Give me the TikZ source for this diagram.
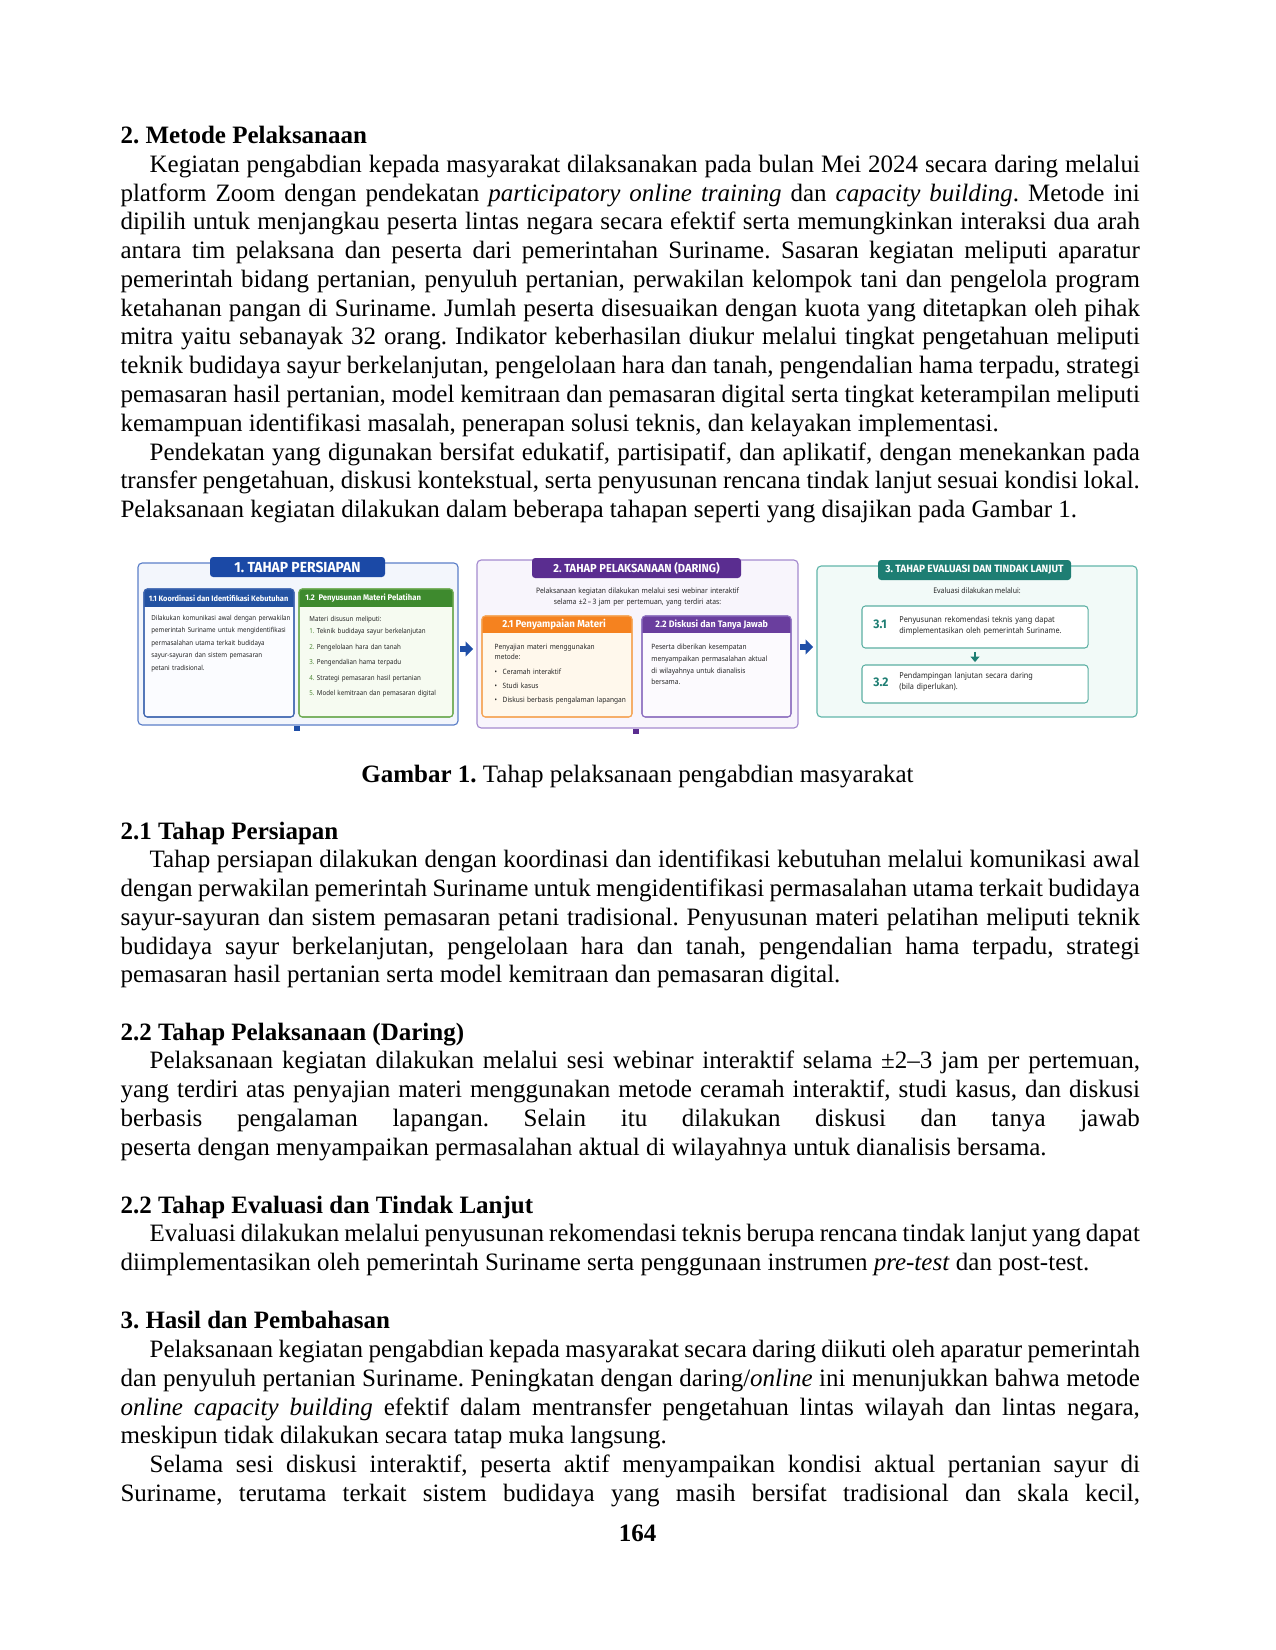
\documentclass[tikz,border=0pt]{standalone}
\usepackage{fontspec}
\setmainfont{Liberation Serif}
\newfontfamily\fsans[FakeStretch=0.9]{Noto Sans}
\newfontfamily\fcond[FakeStretch=0.95]{Fira Sans}
\usetikzlibrary{arrows.meta}
\tolerance=10000
\hyphenpenalty=10000
\exhyphenpenalty=10000
\frenchspacing
\definecolor{bonefill}{HTML}{F3F6FC}
\definecolor{boneline}{HTML}{5B7FC8}
\definecolor{tblue}{HTML}{1B49A6}
\definecolor{hoo}{HTML}{2352A2}
\definecolor{loo}{HTML}{3F66B0}
\definecolor{foo}{HTML}{FBFCFF}
\definecolor{hot}{HTML}{3E8A2E}
\definecolor{lot}{HTML}{6DAA52}
\definecolor{fot}{HTML}{F6FBF1}
\definecolor{numg}{HTML}{4E8A35}
\definecolor{btwofill}{HTML}{F8F5FC}
\definecolor{btwoline}{HTML}{A58BCF}
\definecolor{tpurp}{HTML}{5A2D90}
\definecolor{hto}{HTML}{F5821F}
\definecolor{lto}{HTML}{F5A556}
\definecolor{fto}{HTML}{FFF8EC}
\definecolor{htt}{HTML}{6A3E9E}
\definecolor{ltt}{HTML}{8E70C0}
\definecolor{ftt}{HTML}{FCFAFE}
\definecolor{bthreefill}{HTML}{F2FAF8}
\definecolor{bthreeline}{HTML}{62B6AA}
\definecolor{tteal}{HTML}{1E7E73}
\definecolor{lthree}{HTML}{5BAFA2}
\definecolor{arrb}{HTML}{1F4FA8}
\definecolor{ftxt}{HTML}{262626}
\newcommand\hdrfill[4]{%
  \begin{scope}
    \clip[rounded corners=1.6pt] (#1.north west) rectangle (#1.south east);
    \fill[#2] (#1.north west) rectangle ([yshift=-#3]#1.north east);
  \end{scope}
  \draw[#4, line width=0.5pt, rounded corners=1.6pt] (#1.north west) rectangle (#1.south east);}
\newcommand\fnum[1]{\makebox[3.6pt][l]{\textcolor{numg}{#1}}}
\newcommand\fbul{\makebox[3.85pt][l]{•}}
\begin{document}
\begin{tikzpicture}[x=0.48pt,y=-0.48pt,
  txt/.style={anchor=base west, inner sep=0pt, outer sep=0pt, text width=489.3pt, align=justify,
    font=\fontsize{12pt}{13.8pt}\selectfont},
  hd/.style={anchor=base west, inner sep=0pt, outer sep=0pt, font=\fontsize{12pt}{13.8pt}\selectfont\bfseries},
  obox/.style={draw, rounded corners=2pt, inner sep=0pt, outer sep=0pt, line width=0.55pt, anchor=north west},
  sbox/.style={draw, rounded corners=1.6pt, inner sep=0pt, outer sep=0pt, line width=0.5pt, anchor=north west},
  tab/.style={rounded corners=1.5pt, inner sep=0pt, outer sep=0pt, text=white, minimum height=9.6pt},
  hdtxt/.style={anchor=west, inner sep=0pt, text=white},
  ftx/.style={anchor=base west, inner sep=0pt, text width=120pt, align=left, text=ftxt},
  blk/.style={arrb, line width=3pt, -{Triangle[width=7pt,length=3.6pt]}}
]
\path[use as bounding box, fill=white] (0,0) rectangle (1275,1650);

% ---------------- text above the figure ----------------
\node[hd] (h1) at (120.5,143.7) {2. Metode Pelaksanaan};
\node[txt] (p1) at (120.5,172.5) {\hspace*{14pt}Kegiatan pengabdian kepada masyarakat dilaksanakan pada bulan Mei 2024 secara daring melalui\linebreak
platform Zoom dengan pendekatan \textit{participatory online training} dan \textit{capacity building}. Metode ini\linebreak
dipilih untuk menjangkau peserta lintas negara secara efektif serta memungkinkan interaksi dua arah\linebreak
antara tim pelaksana dan peserta dari pemerintahan Suriname. Sasaran kegiatan meliputi aparatur\linebreak
pemerintah bidang pertanian, penyuluh pertanian, perwakilan kelompok tani dan pengelola program\linebreak
ketahanan pangan di Suriname. Jumlah peserta disesuaikan dengan kuota yang ditetapkan oleh pihak\linebreak
mitra yaitu sebanayak 32 orang. Indikator keberhasilan diukur melalui tingkat pengetahuan meliputi\linebreak
teknik budidaya sayur berkelanjutan, pengelolaan hara dan tanah, pengendalian hama terpadu, strategi\linebreak
pemasaran hasil pertanian, model kemitraan dan pemasaran digital serta tingkat keterampilan meliputi\linebreak
kemampuan identifikasi masalah, penerapan solusi teknis, dan kelayakan implementasi.};
\node[txt] (p2) at (120.5,460) {\hspace*{14pt}Pendekatan yang digunakan bersifat edukatif, partisipatif, dan aplikatif, dengan menekankan pada\linebreak
transfer pengetahuan, diskusi kontekstual, serta penyusunan rencana tindak lanjut sesuai kondisi lokal.\linebreak
Pelaksanaan kegiatan dilakukan dalam beberapa tahapan seperti yang disajikan pada Gambar 1.};

% ---------------- figure: outer boxes ----------------
\node[obox, draw=boneline, fill=bonefill, minimum width=153.6pt, minimum height=77.76pt] (b1) at (138,563) {};
\node[obox, draw=btwoline, fill=btwofill, minimum width=154.08pt, minimum height=80.64pt] (b2) at (477,560) {};
\node[obox, draw=bthreeline, fill=bthreefill, minimum width=153.6pt, minimum height=72.48pt] (b3) at (817,566) {};

\node[tab, fill=tblue, minimum width=84pt, font=\fcond\bfseries\fontsize{7pt}{8pt}\selectfont] (t1) at (297.5,567) {1. TAHAP PERSIAPAN};
\node[tab, fill=tpurp, minimum width=100.32pt, font=\fcond\bfseries\fontsize{5.6pt}{6.5pt}\selectfont] (t2) at (636.5,568) {2. TAHAP PELAKSANAAN (DARING)};
\node[tab, fill=tteal, minimum width=92.64pt, font=\fcond\bfseries\fontsize{5.1pt}{6pt}\selectfont] (t3) at (974.5,570) {3. TAHAP EVALUASI DAN TINDAK LANJUT};

% ---------------- box 1 ----------------
\node[sbox, draw=loo, fill=foo, minimum width=72pt, minimum height=61.44pt] (s11) at (144,589) {};
\hdrfill{s11}{hoo}{8.64pt}{loo}
\node[sbox, draw=lot, fill=fot, minimum width=73.92pt, minimum height=61.44pt] (s12) at (299,589) {};
\hdrfill{s12}{hot}{8.64pt}{lot}
\node[hdtxt, font=\fcond\bfseries\fontsize{3.75pt}{4.5pt}\selectfont] (s11h) at (148.5,598) {1.1 Koordinasi dan Identifikasi Kebutuhan};
\node[hdtxt, font=\fcond\bfseries\fontsize{3.9pt}{4.5pt}\selectfont] (s12h) at (305,598) {1.2\ \ Penyusunan Materi Pelatihan};
\node[ftx, font=\fsans\fontsize{3.3pt}{6pt}\selectfont] (s11t) at (151,620) {Dilakukan komunikasi awal dengan perwakilan\\
pemerintah Suriname untuk mengidentifikasi\\
permasalahan utama terkait budidaya\\
sayur-sayuran dan sistem pemasaran\\
petani tradisional.};
\node[ftx, font=\fsans\fontsize{3.3pt}{5.76pt}\selectfont] (s12t) at (309,621.5) {Materi disusun meliputi:\\
\fnum{1.}Teknik budidaya sayur berkelanjutan\\[1.68pt]
\fnum{2.}Pengelolaan hara dan tanah\\[1.68pt]
\fnum{3.}Pengendalian hama terpadu\\[1.68pt]
\fnum{4.}Strategi pemasaran hasil pertanian\\[1.68pt]
\fnum{5.}Model kemitraan dan pemasaran digital};

% ---------------- box 2 ----------------
\node[anchor=base, inner sep=0pt, text width=140pt, align=center, text=ftxt, font=\fsans\fontsize{3.6pt}{5.28pt}\selectfont] (b2i) at (637.5,593) {Pelaksanaan kegiatan dilakukan melalui sesi webinar interaktif\\
selama ±2\,–\,3 jam per pertemuan, yang terdiri atas:};
\node[sbox, draw=lto, fill=fto, minimum width=72pt, minimum height=48.48pt] (s21) at (482,616) {};
\hdrfill{s21}{hto}{8.16pt}{lto}
\node[sbox, draw=ltt, fill=ftt, minimum width=71.52pt, minimum height=48.48pt] (s22) at (642,616) {};
\hdrfill{s22}{htt}{8.16pt}{ltt}
\node[hdtxt, font=\fcond\bfseries\fontsize{4.9pt}{5.5pt}\selectfont] (s21h) at (502,624.5) {2.1 Penyampaian Materi};
\node[hdtxt, font=\fcond\bfseries\fontsize{4.5pt}{5pt}\selectfont] (s22h) at (655,624.5) {2.2 Diskusi dan Tanya Jawab};
\node[ftx, font=\fsans\fontsize{3.5pt}{4.8pt}\selectfont] (s21t) at (494.3,649.8) {Penyajian materi menggunakan\\
metode:\\[2.2pt]
\fbul Ceramah interaktif\\[1.8pt]
\fbul Studi kasus\\[1.9pt]
\fbul Diskusi berbasis pengalaman lapangan};
\node[ftx, font=\fsans\fontsize{3.5pt}{5.6pt}\selectfont] (s22t) at (651,649.8) {Peserta diberikan kesempatan\\
menyampaikan permasalahan aktual\\
di wilayahnya untuk dianalisis\\
bersama.};

% ---------------- box 3 ----------------
\node[anchor=base, inner sep=0pt, text=ftxt, font=\fsans\fontsize{3.7pt}{5pt}\selectfont] (b3i) at (977,593) {Evaluasi dilakukan melalui:};
\node[sbox, draw=lthree, fill=white, minimum width=108.48pt, minimum height=20.16pt] (s31) at (862,606) {};
\node[sbox, draw=lthree, fill=white, minimum width=108.48pt, minimum height=18.24pt] (s32) at (862,665) {};
\node[anchor=base west, inner sep=0pt, text=tteal, font=\fcond\bfseries\fontsize{6pt}{7pt}\selectfont] (n31) at (873,628.5) {3.1};
\node[anchor=base west, inner sep=0pt, text=tteal, font=\fcond\bfseries\fontsize{6pt}{7pt}\selectfont] (n32) at (873,686) {3.2};
\node[ftx, font=\fsans\fontsize{3.9pt}{5.28pt}\selectfont] (s31t) at (899,622.5) {Penyusunan rekomendasi teknis yang dapat\\
dimplementasikan oleh pemerintah Suriname.};
\node[ftx, font=\fsans\fontsize{3.9pt}{5.28pt}\selectfont] (s32t) at (899,678.5) {Pendampingan lanjutan secara daring\\
(bila diperlukan).};
\draw[tteal, line width=1.4pt, -{Triangle[width=4.2pt,length=2.6pt]}, shorten <=1.9pt, shorten >=1.4pt] (s31.south) -- (s32.north);

% ---------------- connectors ----------------
\coordinate (ra) at (0,649);
\coordinate (rb) at (0,647);
\draw[blk, shorten <=1pt, shorten >=1.9pt] (b1.east |- ra) -- (b2.west |- ra);
\draw[blk, shorten <=1pt, shorten >=1.9pt] (b2.east |- rb) -- (b3.west |- rb);
\fill[arrb] (294,726) rectangle (300,731);
\fill[tpurp] (633,729) rectangle (639,734);

% ---------------- caption and text below ----------------
\node[anchor=base, inner sep=0pt, font=\fontsize{12pt}{13.8pt}\selectfont] (cap) at (637.5,782) {\textbf{Gambar 1.} Tahap pelaksanaan pengabdian masyarakat};

\node[hd] (h21) at (120.5,839) {2.1 Tahap Persiapan};
\node[txt] (p21) at (120.5,867.75) {\hspace*{14pt}Tahap persiapan dilakukan dengan koordinasi dan identifikasi kebutuhan melalui komunikasi awal\linebreak
dengan perwakilan pemerintah Suriname untuk mengidentifikasi permasalahan utama terkait budidaya\linebreak
sayur-sayuran dan sistem pemasaran petani tradisional. Penyusunan materi pelatihan meliputi teknik\linebreak
budidaya sayur berkelanjutan, pengelolaan hara dan tanah, pengendalian hama terpadu, strategi\linebreak
pemasaran hasil pertanian serta model kemitraan dan pemasaran digital.};

\node[hd] (h22) at (120.5,1040) {2.2 Tahap Pelaksanaan (Daring)};
\node[txt] (p22) at (120.5,1068.75) {\hspace*{14pt}Pelaksanaan kegiatan dilakukan melalui sesi webinar interaktif selama ±2–3 jam per pertemuan,\linebreak
yang terdiri atas penyajian materi menggunakan metode ceramah interaktif, studi kasus, dan diskusi\linebreak
berbasis pengalaman lapangan. Selain itu dilakukan diskusi dan tanya jawab\linebreak
peserta dengan menyampaikan permasalahan aktual di wilayahnya untuk dianalisis bersama.};

\node[hd] (h23) at (120.5,1213) {2.2 Tahap Evaluasi dan Tindak Lanjut};
\node[txt] (p23) at (120.5,1241.75) {\hspace*{14pt}Evaluasi dilakukan melalui penyusunan rekomendasi teknis berupa rencana tindak lanjut yang dapat\linebreak
diimplementasikan oleh pemerintah Suriname serta penggunaan instrumen \textit{pre-test} dan post-test.};

\node[hd] (h3) at (120.5,1328.8) {3. Hasil dan Pembahasan};
\node[txt] (p31) at (120.5,1357.55) {\hspace*{14pt}Pelaksanaan kegiatan pengabdian kepada masyarakat secara daring diikuti oleh aparatur pemerintah\linebreak
dan penyuluh pertanian Suriname. Peningkatan dengan daring/\textit{online} ini menunjukkan bahwa metode\linebreak
\textit{online capacity building} efektif dalam mentransfer pengetahuan lintas wilayah dan lintas negara,\linebreak
meskipun tidak dilakukan secara tatap muka langsung.};
\node[txt] (p32) at (120.5,1472.55) {\hspace*{14pt}Selama sesi diskusi interaktif, peserta aktif menyampaikan kondisi aktual pertanian sayur di\linebreak
Suriname, terutama terkait sistem budidaya yang masih bersifat tradisional dan skala kecil,\hspace{0pt plus -1fil}\mbox{}};

\node[anchor=base, inner sep=0pt, font=\fontsize{12pt}{13.8pt}\selectfont\bfseries] (pg) at (637.5,1541) {164};
\end{tikzpicture}
\end{document}
